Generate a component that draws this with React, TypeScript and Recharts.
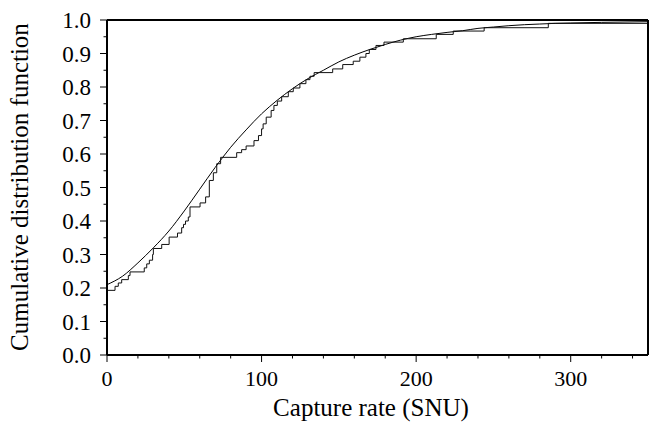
import React from 'react';
import { LineChart, Line, XAxis, YAxis } from 'recharts';

// smooth model CDF
const curveX = [0, 10, 20, 30, 40, 50, 60, 70, 80, 90, 100, 110, 120, 130, 140, 150, 160, 170, 180, 190, 200, 210, 220, 230, 240, 250, 260, 270, 280, 290, 300, 320, 350];
const curveY = [0.21, 0.235, 0.275, 0.32, 0.37, 0.43, 0.495, 0.56, 0.62, 0.672, 0.72, 0.76, 0.795, 0.825, 0.85, 0.875, 0.895, 0.912, 0.927, 0.94, 0.95, 0.957, 0.963, 0.968, 0.975, 0.979, 0.983, 0.986, 0.988, 0.99, 0.991, 0.993, 0.995];

// empirical CDF: jump positions and level after each jump
const stepX = [0, 5.2, 7.3, 9.5, 13.8, 14.9, 24.1, 25.7, 27.4, 29.5, 30, 35.4, 40.2, 45.6, 48.3, 49.5, 50.8, 52.6, 53.7, 60.2, 63.8, 66.2, 68.8, 71, 73.5, 83.9, 87.1, 90, 95.1, 98, 100, 101, 103, 106.2, 108, 110.2, 113, 117.3, 120.5, 124.8, 128.7, 131.3, 134, 146, 152.5, 159.3, 163.6, 167.5, 169.7, 174, 179.2, 191.7, 213, 224, 244, 285.5, 350];
const stepY = [0.193, 0.205, 0.215, 0.225, 0.237, 0.248, 0.26, 0.272, 0.283, 0.3, 0.318, 0.33, 0.352, 0.364, 0.38, 0.39, 0.4, 0.412, 0.442, 0.454, 0.472, 0.521, 0.544, 0.571, 0.59, 0.604, 0.613, 0.624, 0.64, 0.655, 0.675, 0.69, 0.71, 0.73, 0.745, 0.758, 0.771, 0.786, 0.797, 0.81, 0.822, 0.832, 0.843, 0.854, 0.867, 0.877, 0.889, 0.9, 0.912, 0.924, 0.934, 0.944, 0.957, 0.967, 0.977, 0.99, 0.99];

const xTicks = [0, 20, 40, 60, 80, 100, 120, 140, 160, 180, 200, 220, 240, 260, 280, 300, 320, 340];
const yTicks = [0, 0.05, 0.1, 0.15, 0.2, 0.25, 0.3, 0.35, 0.4, 0.45, 0.5, 0.55, 0.6, 0.65, 0.7, 0.75, 0.8, 0.85, 0.9, 0.95, 1];

const xTitle = 'Capture rate (SNU)';
const yTitle = 'Cumulative distribution function';

const curveData = curveX.map((x, i) => ({ x, y: curveY[i] }));
const stepData = stepX.map((x, i) => ({ x, y: stepY[i] }));

const textStyle: React.CSSProperties = { fontFamily: "'Liberation Serif'" };
const W = 659;
const H = 425;

type Side = 'bottom' | 'top' | 'left' | 'right';

// draws tick marks (outward) and labels for the framed axes
const makeTick = (side: Side) => (props: any) => {
  const { x, y, payload } = props;
  const v = payload.value as number;
  const horizontal = side === 'bottom' || side === 'top';
  const major = horizontal ? v % 100 === 0 : Math.round(v * 100) % 10 === 0;
  const len = major ? 7 : 3.5;
  let line;
  if (side === 'bottom') line = <line x1={x} y1={y} x2={x} y2={y + len} stroke="#000" strokeWidth={1} />;
  else if (side === 'top') line = <line x1={x} y1={y} x2={x} y2={y - len} stroke="#000" strokeWidth={1} />;
  else if (side === 'left') line = <line x1={x} y1={y} x2={x - len} y2={y} stroke="#000" strokeWidth={1} />;
  else line = <line x1={x} y1={y} x2={x + len} y2={y} stroke="#000" strokeWidth={1} />;

  let label = null;
  if (major && side === 'bottom') {
    label = (
      <text x={x} y={y + 31} textAnchor="middle" style={textStyle} fontSize={22} fill="#000">
        {v}
      </text>
    );
  } else if (major && side === 'left') {
    label = (
      <text x={x - 16} y={y + 8} textAnchor="end" style={textStyle} fontSize={23} fill="#000">
        {v.toFixed(1)}
      </text>
    );
  }
  return (
    <g>
      {line}
      {label}
    </g>
  );
};

export default function App() {
  return (
    <div style={{ position: 'absolute', left: 0, top: 0, width: W, height: H, background: '#fff' }}>
      <LineChart width={W} height={H} margin={{ top: 10, right: 1, bottom: 30, left: 47 }}>
        <XAxis
          dataKey="x"
          type="number"
          domain={[0, 350]}
          ticks={xTicks}
          interval={0}
          height={40}
          tickSize={0}
          tickMargin={0}
          tickLine={false}
          axisLine={{ stroke: '#000', strokeWidth: 2 }}
          tick={makeTick('bottom')}
          allowDataOverflow
        />
        <XAxis
          xAxisId="top"
          orientation="top"
          type="number"
          domain={[0, 350]}
          ticks={xTicks}
          interval={0}
          height={10}
          tickSize={0}
          tickMargin={0}
          tickLine={false}
          axisLine={{ stroke: '#000', strokeWidth: 2 }}
          tick={makeTick('top')}
        />
        <YAxis
          type="number"
          domain={[0, 1]}
          ticks={yTicks}
          interval={0}
          width={60}
          tickSize={0}
          tickMargin={0}
          tickLine={false}
          axisLine={{ stroke: '#000', strokeWidth: 2 }}
          tick={makeTick('left')}
          allowDataOverflow
        />
        <YAxis
          yAxisId="right"
          orientation="right"
          type="number"
          domain={[0, 1]}
          ticks={yTicks}
          interval={0}
          width={10}
          tickSize={0}
          tickMargin={0}
          tickLine={false}
          axisLine={{ stroke: '#000', strokeWidth: 2 }}
          tick={makeTick('right')}
        />
        <Line
          data={curveData}
          dataKey="y"
          type="monotone"
          stroke="#000"
          strokeWidth={1}
          dot={false}
          isAnimationActive={false}
        />
        <Line
          data={stepData}
          dataKey="y"
          type="stepAfter"
          stroke="#111"
          strokeWidth={1}
          dot={false}
          isAnimationActive={false}
        />
      </LineChart>
      <svg width={W} height={H} style={{ position: 'absolute', left: 0, top: 0, pointerEvents: 'none' }}>
        <text x={371} y={416} textAnchor="middle" style={textStyle} fontSize={25} fill="#000">
          {xTitle}
        </text>
        <text
          x={28}
          y={187}
          textAnchor="middle"
          style={textStyle}
          fontSize={25}
          fill="#000"
          transform="rotate(-90 28 187)"
        >
          {yTitle}
        </text>
      </svg>
    </div>
  );
}
